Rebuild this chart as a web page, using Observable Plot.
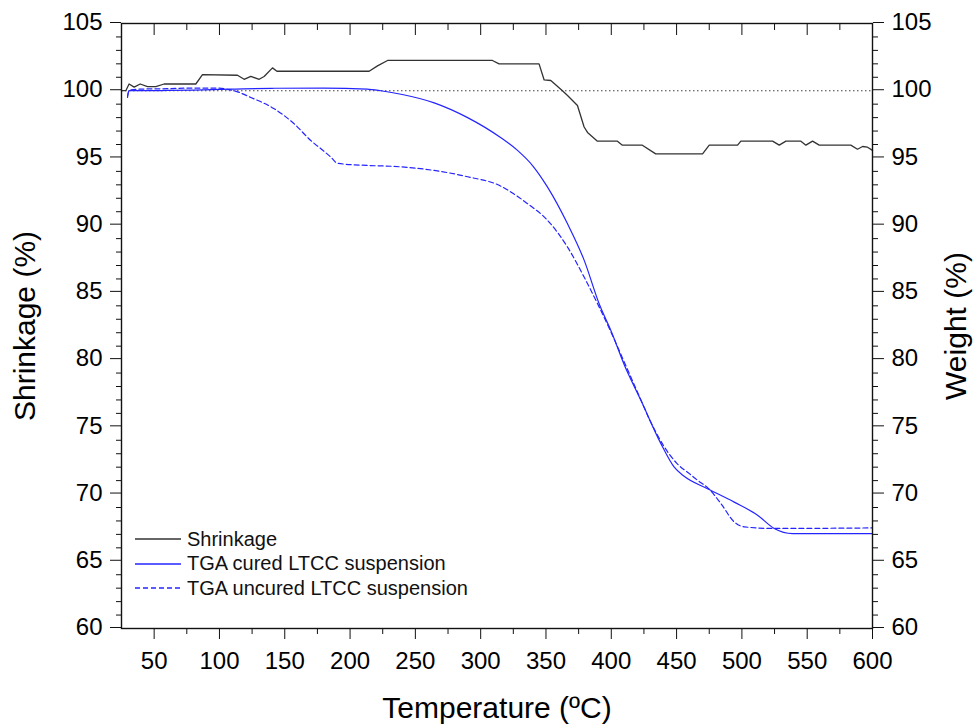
<!DOCTYPE html>
<html>
<head>
<meta charset="utf-8">
<script src="https://cdn.jsdelivr.net/npm/d3@7"></script>
<script src="https://cdn.jsdelivr.net/npm/@observablehq/plot@0.6"></script>
<style>
  html, body { margin: 0; padding: 0; background: white; }
  #wrap { position: relative; width: 977px; height: 724px; font-family: 'Liberation Sans', Arial, sans-serif; }
  #legend { position: absolute; left: 135px; top: 527px; font-size: 20px; color: #111; }
  .row { display: flex; align-items: center; height: 24.5px; }
  .row svg { margin-right: 6px; }
</style>
</head>
<body>
<div id="wrap">
  <div id="chart"></div>
  <div id="legend"></div>
</div>
<script>
// Shrinkage (%) vs temperature (°C)
const shrinkT = [25, 28.3, 30.8, 34.7, 39.3, 44.9, 51.3, 57.6, 81.9, 87, 113.8, 118.9, 124, 130.4, 134.2, 140.6, 144, 214.6, 221, 228.7, 309, 314.1, 344.7, 348.6, 353.7, 362.6, 366.5, 374.1, 379.2, 381.8, 389.4, 404.7, 408.5, 423.8, 434, 469.9, 475, 496.7, 499.2, 523.5, 528.6, 533.7, 545.2, 549, 554.1, 559.2, 583.4, 588.5, 592.4, 596.2, 600];
const shrinkV = [100.0, 100.0, 100.5, 100.27, 100.5, 100.3, 100.3, 100.5, 100.5, 101.2, 101.15, 100.85, 101.06, 100.85, 101.06, 101.7, 101.45, 101.45, 101.85, 102.25, 102.25, 102.0, 102.0, 100.8, 100.76, 100.0, 99.65, 98.9, 97.3, 96.9, 96.25, 96.25, 95.95, 95.95, 95.3, 95.3, 95.95, 95.95, 96.25, 96.25, 95.95, 96.25, 96.25, 95.95, 96.25, 95.95, 95.95, 95.65, 95.85, 95.8, 95.56];

// TGA cured LTCC suspension, weight (%)
const curedT = [29.6, 30.8, 40, 60, 80, 100, 140, 180, 213, 223.5, 240, 264.4, 290, 315.5, 328.2, 340, 351.2, 366.5, 379.2, 390.7, 400, 410, 422.7, 438, 448.2, 455.8, 473.7, 494.1, 512, 524.8, 538.8, 600];
const curedV = [99.5, 100.0, 100.0, 100.02, 100.05, 100.1, 100.18, 100.2, 100.12, 100.0, 99.72, 99.1, 98.0, 96.5, 95.56, 94.4, 92.83, 90.1, 87.4, 84.16, 82.1, 79.6, 76.97, 73.75, 72.0, 71.32, 70.4, 69.4, 68.43, 67.44, 67.06, 67.06];

// TGA uncured LTCC suspension, weight (%)
const uncuredT = [29.6, 31, 40, 60, 80, 100, 106, 111.2, 124, 141.9, 157.2, 169.9, 180, 185.3, 190.4, 213.3, 233.7, 264.4, 290, 315.5, 325, 335.9, 351.2, 366.5, 379.2, 389.5, 400, 410, 420, 430, 440, 450, 460, 466, 473.7, 483.9, 494.1, 501.8, 524.8, 600];
const uncuredV = [99.6, 100.05, 100.12, 100.15, 100.2, 100.2, 100.1, 100.0, 99.5, 98.66, 97.54, 96.3, 95.5, 95.06, 94.6, 94.44, 94.37, 94.07, 93.6, 92.9, 92.35, 91.6, 90.36, 88.37, 86.14, 84.16, 82.0, 79.8, 77.6, 75.4, 73.6, 72.3, 71.5, 71.03, 70.48, 69.3, 67.93, 67.56, 67.44, 67.48];

const xTicks = [50, 100, 150, 200, 250, 300, 350, 400, 450, 500, 550, 600];
const xMinor = [75, 125, 175, 225, 275, 325, 375, 425, 475, 525, 575];
const yTicks = [60, 65, 70, 75, 80, 85, 90, 95, 100, 105];
const yMinor = d3.range(61, 105).filter(v => v % 5 !== 0);
const refLine = [100];

const seriesNames = ["Shrinkage", "TGA cured LTCC suspension", "TGA uncured LTCC suspension"];
const seriesColors = ["#333333", "#2424ff", "#2424ff"];
const seriesDash = [null, null, "5,3"];
const axisTitles = {x: "Temperature (ºC)", left: "Shrinkage (%)", right: "Weight (%)"};

const toRows = (T, V) => T.map((t, i) => ({t, v: V[i]}));
const shrink = toRows(shrinkT, shrinkV);
const cured = toRows(curedT, curedV);
const uncured = toRows(uncuredT, uncuredV);

const font = "'Liberation Sans', Arial, sans-serif";
const blank = () => "";

const chart = Plot.plot({
  width: 977,
  height: 724,
  marginLeft: 121,
  marginRight: 105,
  marginTop: 23,
  marginBottom: 96,
  x: {domain: [25, 600], label: null},
  y: {domain: [60, 105], label: null},
  style: {fontFamily: font, background: "white", color: "black"},
  marks: [
    Plot.ruleY(refLine, {stroke: "#444", strokeDasharray: "1.5,2.5", strokeWidth: 1.1}),
    Plot.line(uncured, {x: "t", y: "v", stroke: seriesColors[2], strokeWidth: 1.2, strokeDasharray: seriesDash[2], curve: "monotone-x"}),
    Plot.line(cured, {x: "t", y: "v", stroke: seriesColors[1], strokeWidth: 1.2, curve: "monotone-x"}),
    Plot.line(shrink, {x: "t", y: "v", stroke: seriesColors[0], strokeWidth: 1.3}),
    Plot.frame({stroke: "#111", strokeWidth: 1.4}),
    // bottom axis
    Plot.axisX(xTicks, {anchor: "bottom", tickSize: 11, tickPadding: 12, fontSize: 24, stroke: "#111",
      label: axisTitles.x, labelAnchor: "center", labelOffset: 89, labelArrow: "none"}),
    Plot.axisX(xMinor, {anchor: "bottom", tickSize: 6, tickFormat: blank, label: null, stroke: "#111"}),
    // top axis (inward ticks)
    Plot.axisX(xTicks, {anchor: "top", tickSize: -11, tickFormat: blank, label: null, stroke: "#111"}),
    Plot.axisX(xMinor, {anchor: "top", tickSize: -6, tickFormat: blank, label: null, stroke: "#111"}),
    // left axis
    Plot.axisY(yTicks, {anchor: "left", tickSize: 11, tickPadding: 8, fontSize: 24, dy: -1, stroke: "#111",
      label: axisTitles.left, labelAnchor: "center", labelOffset: 108, labelArrow: "none"}),
    Plot.axisY(yMinor, {anchor: "left", tickSize: 5, tickFormat: blank, label: null, stroke: "#111"}),
    // right axis
    Plot.axisY(yTicks, {anchor: "right", tickSize: 11, tickPadding: 8, fontSize: 24, dy: -1, stroke: "#111",
      label: axisTitles.right, labelAnchor: "center", labelOffset: 93, labelArrow: "none"}),
    Plot.axisY(yMinor, {anchor: "right", tickSize: 5, tickFormat: blank, label: null, stroke: "#111"})
  ]
});
// axis titles: larger font, no arrows
const titleSet = new Set(Object.values(axisTitles));
chart.querySelectorAll("text").forEach(t => {
  const s = t.textContent.replace(/[\u2190-\u2193]/g, "").trim();
  if (titleSet.has(s)) {
    t.textContent = s;
    t.setAttribute("font-size", "30");
    if (t.parentNode) t.parentNode.setAttribute("font-size", "30");
  }
});
document.getElementById("chart").appendChild(chart);

const legend = document.getElementById("legend");
seriesNames.forEach((name, i) => {
  const row = document.createElement("div");
  row.className = "row";
  const dash = seriesDash[i] ? `stroke-dasharray="${seriesDash[i]}"` : "";
  row.innerHTML = `<svg width="46" height="6"><line x1="0" x2="46" y1="3" y2="3" stroke="${seriesColors[i]}" stroke-width="1.3" ${dash}/></svg><span>${name}</span>`;
  legend.appendChild(row);
});
</script>
</body>
</html>
